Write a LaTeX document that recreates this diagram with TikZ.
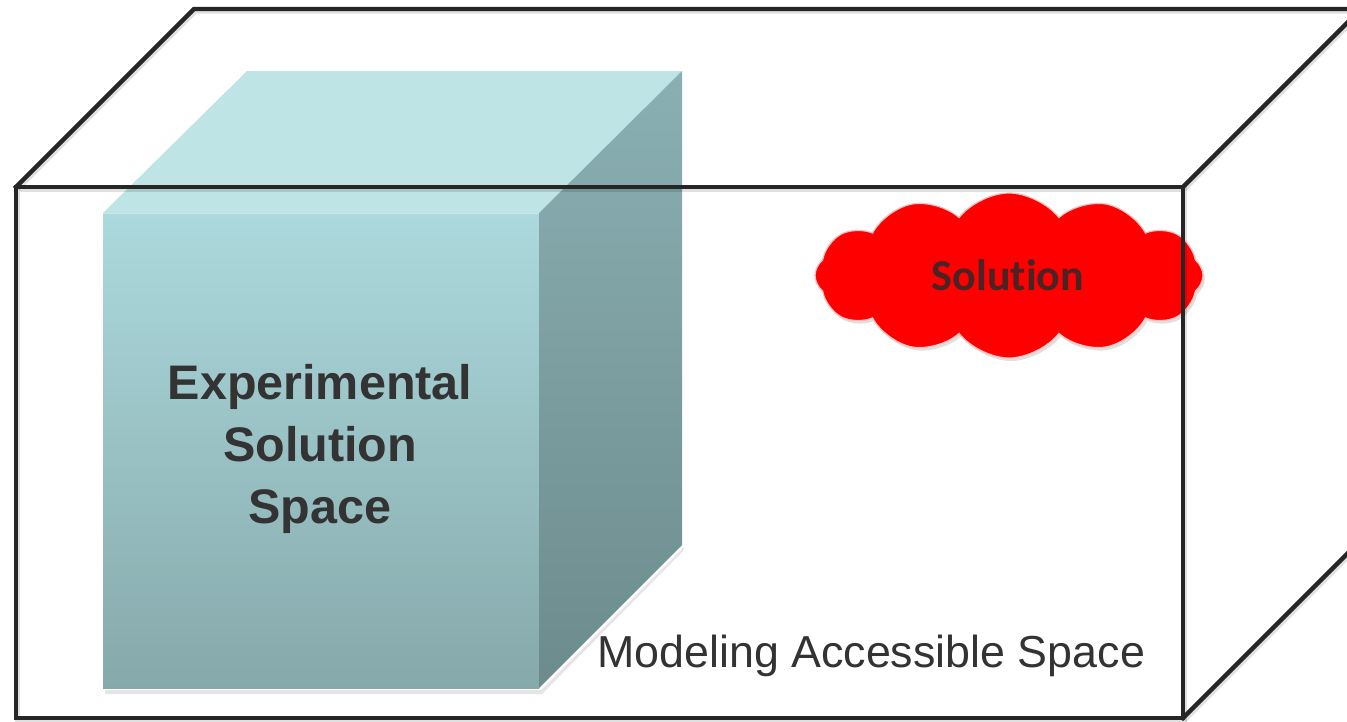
\documentclass[tikz,border=0pt]{standalone}
\usepackage{fontspec}
\setmainfont{Liberation Sans}
\newfontfamily\calibrifont[Ligatures=NoCommon]{Carlito}
\usetikzlibrary{shapes.symbols,shadows}
\definecolor{boxline}{HTML}{262626}
\definecolor{cubetop}{HTML}{BEE4E6}
\definecolor{cubefronttop}{HTML}{ACD9DD}
\definecolor{cubefrontbot}{HTML}{86A9AB}
\definecolor{cuberighttop}{HTML}{8AB0B3}
\definecolor{cuberightbot}{HTML}{6D8B8D}
\definecolor{textdark}{HTML}{333333}
\definecolor{cloudtext}{HTML}{4A2424}
\tikzset{
  edgeline/.style={draw=boxline, line width=4.4pt, line join=miter, line cap=rect},
  edgeshadow/.style={draw=black, opacity=0.12, line width=5pt},
  bigtext/.style={font=\bfseries\fontsize{48.5}{62}\selectfont, text=textdark, align=center},
  modeltext/.style={font=\fontsize{44.8}{54}\selectfont, text=textdark, anchor=base west, inner sep=0pt},
  cloudshape/.style={cloud, cloud puffs=12, cloud puff arc=105, aspect=2.35,
     fill=red, draw=red!25!white, line width=1.2pt, inner sep=0pt,
     minimum width=388pt, minimum height=165pt,
     drop shadow={opacity=0.25, shadow xshift=2pt, shadow yshift=-3pt}},
  cloudlabel/.style={font=\calibrifont\bfseries\fontsize{44}{50}\selectfont, text=cloudtext, anchor=base, inner sep=0pt}
}
\begin{document}
\begin{tikzpicture}[x=1pt,y=-1pt]
\useasboundingbox (0,0) rectangle (1347,721);
\clip (0,0) rectangle (1347,721);
\fill[white] (0,0) rectangle (1347,721);

% cube corners
\coordinate (cfl) at (103,213);
\coordinate (cfr) at (539,213);
\coordinate (cbl) at (539,688);
\coordinate (cbll) at (103,688);
\coordinate (ctl) at (247,71);
\coordinate (ctr) at (682,71);
\coordinate (crb) at (682,545);

% cube shadow
\fill[black, opacity=0.10] (105,690) -- (541,690) -- (684,547) -- (684,550) -- (542,694) -- (105,694) -- cycle;
% cube faces
\fill[cubetop] (cfl) -- (ctl) -- (ctr) -- (cfr) -- cycle;
\shade[top color=cubefronttop, bottom color=cubefrontbot] (cfl) -- (cfr) -- (cbl) -- (cbll) -- cycle;
\shade[top color=cuberighttop, bottom color=cuberightbot] (cfr) -- (ctr) -- (crb) -- (cbl) -- cycle;
\draw[white, opacity=0.35, line width=1pt] (cfl) -- (cfr);

\node[bigtext] (exp) at (320,449) {Experimental\\Solution\\Space};

% cloud
\node[cloudshape] (cloud) at (1009,275.5) {};
\node[cloudlabel] (sol) at (1008,290) {Solution};

% big box
\coordinate (fl) at (16,187);
\coordinate (fr) at (1183,187);
\coordinate (br) at (1183,718);
\coordinate (bl) at (16,718);
\coordinate (tl) at (194,9);
\coordinate (tr) at (1361,9);
\coordinate (rb) at (1361,540);

\draw[edgeshadow, transform canvas={xshift=1.5pt,yshift=-2pt}] (bl) -- (fl) -- (fr) -- (br) -- cycle;
\draw[edgeshadow, transform canvas={xshift=1.5pt,yshift=-2pt}] (fl) -- (tl) -- (tr) -- (fr);
\draw[edgeshadow, transform canvas={xshift=1.5pt,yshift=-2pt}] (br) -- (rb);

\draw[edgeline] (bl) -- (fl) -- (fr) -- (br) -- cycle;
\draw[edgeline] (fl) -- (tl) -- (tr) -- (fr);
\draw[edgeline] (br) -- (rb);

\node[modeltext] (model) at (597,667) {Modeling Accessible Space};
\end{tikzpicture}
\end{document}
